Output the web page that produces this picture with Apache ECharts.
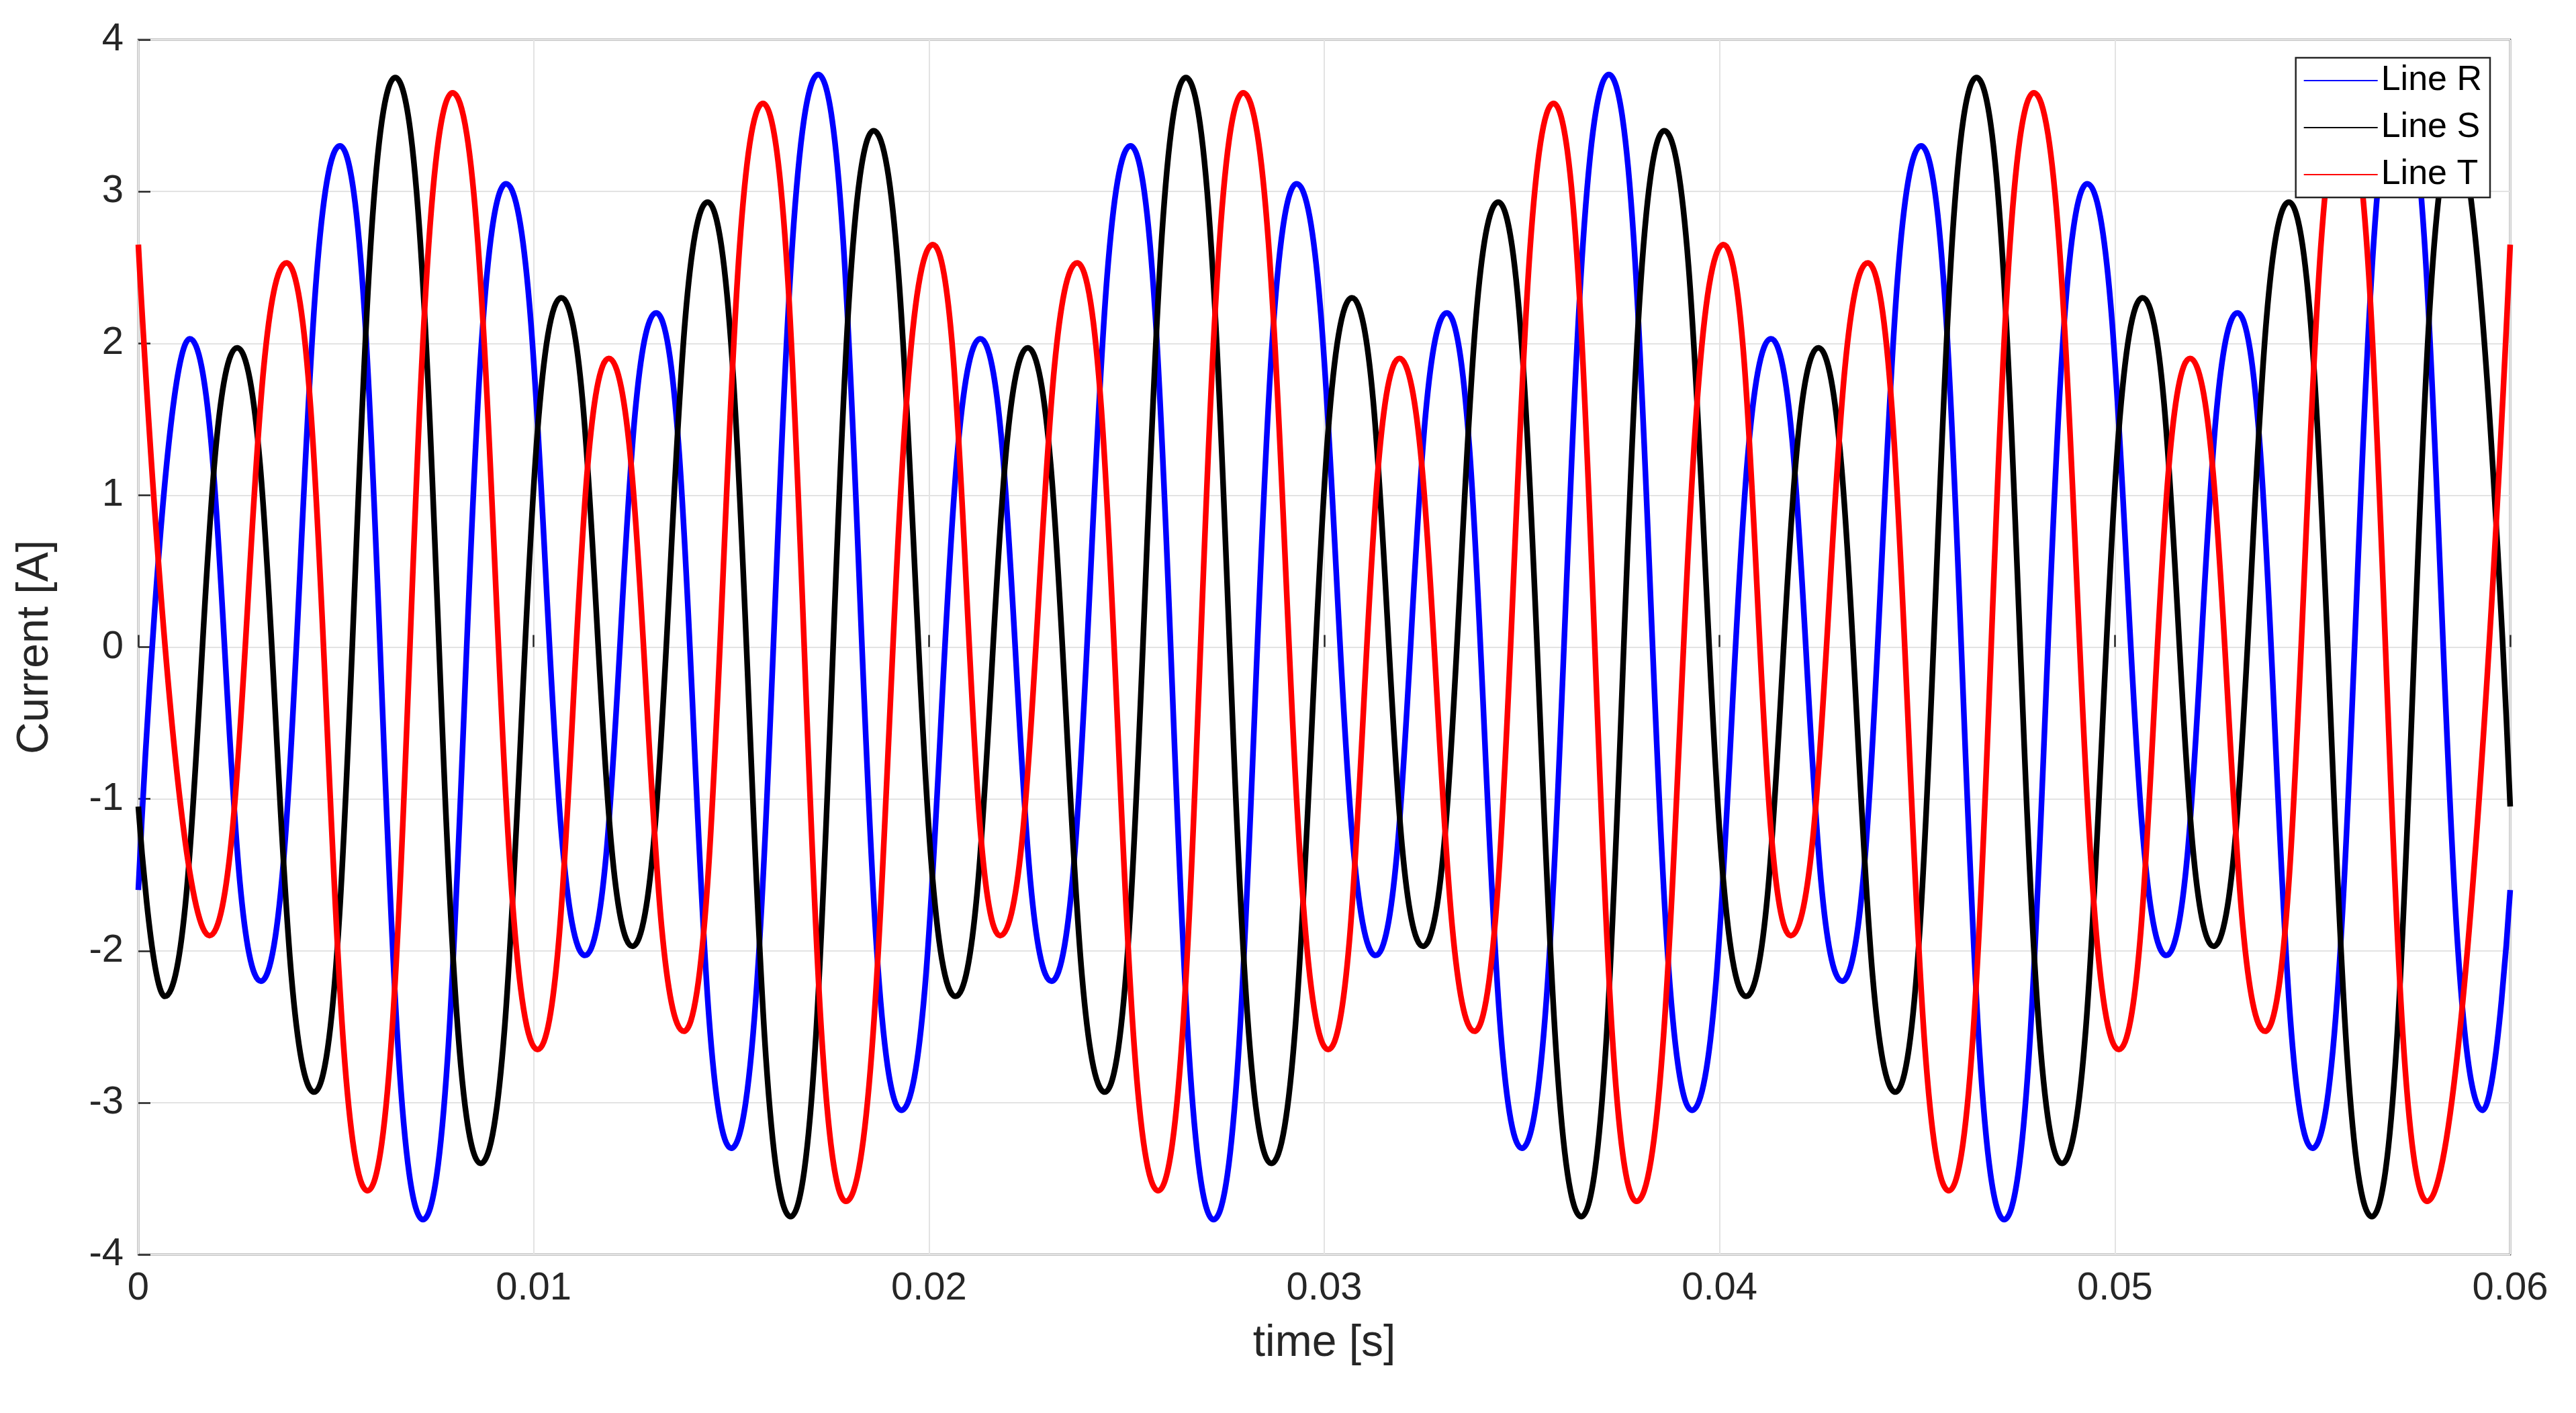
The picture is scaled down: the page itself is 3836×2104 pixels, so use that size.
<!DOCTYPE html>
<html>
<head>
<meta charset="utf-8">
<script src="https://cdn.jsdelivr.net/npm/echarts@6/dist/echarts.min.js"></script>
<style>html,body{margin:0;padding:0;background:#fff}#chart{width:3836px;height:2104px}</style>
</head>
<body>
<div id="chart"></div>
<script>
// extrema, [time s, current A]
var lineR = [
  [0,-1.6],[0.0013,2.03],[0.0031,-2.2],[0.0051,3.3],[0.0072,-3.77],[0.0093,3.05],[0.0113,-2.03],[0.0131,2.2],[0.015,-3.3],[0.0172,3.77],[0.0193,-3.05],
  [0.0213,2.03],[0.0231,-2.2],[0.0251,3.3],[0.0272,-3.77],[0.0293,3.05],[0.0313,-2.03],[0.0331,2.2],[0.035,-3.3],[0.0372,3.77],[0.0393,-3.05],
  [0.0413,2.03],[0.0431,-2.2],[0.0451,3.3],[0.0472,-3.77],[0.0493,3.05],[0.0513,-2.03],[0.0531,2.2],[0.055,-3.3],[0.0572,3.77],[0.0593,-3.05],[0.06,-1.6]
];
var lineS = [
  [0,-1.05],[0.00067,-2.3],[0.0025,1.97],[0.00445,-2.93],[0.0065,3.75],[0.00866,-3.4],[0.0107,2.3],[0.0125,-1.97],[0.0144,2.93],[0.0165,-3.75],[0.0186,3.4],
  [0.02067,-2.3],[0.0225,1.97],[0.02445,-2.93],[0.0265,3.75],[0.02866,-3.4],[0.0307,2.3],[0.0325,-1.97],[0.0344,2.93],[0.0365,-3.75],[0.0386,3.4],
  [0.04067,-2.3],[0.0425,1.97],[0.04445,-2.93],[0.0465,3.75],[0.04866,-3.4],[0.0507,2.3],[0.0525,-1.97],[0.0544,2.93],[0.0565,-3.75],[0.0586,3.4],[0.06,-1.05]
];
var lineT = [
  [0,2.65],[0.0018,-1.9],[0.00375,2.53],[0.0058,-3.58],[0.00795,3.65],[0.0101,-2.65],[0.0119,1.9],[0.0138,-2.53],[0.0158,3.58],[0.0179,-3.65],
  [0.0201,2.65],[0.0218,-1.9],[0.02375,2.53],[0.0258,-3.58],[0.02795,3.65],[0.0301,-2.65],[0.0319,1.9],[0.0338,-2.53],[0.0358,3.58],[0.0379,-3.65],
  [0.0401,2.65],[0.0418,-1.9],[0.04375,2.53],[0.0458,-3.58],[0.04795,3.65],[0.0501,-2.65],[0.0519,1.9],[0.0538,-2.53],[0.0558,3.58],[0.0579,-3.65],[0.06,2.65]
];
var seriesNames = ['Line R', 'Line S', 'Line T'];
var seriesColors = ['#0000ff', '#000000', '#ff0000'];

var font = 'Liberation Sans, Arial, sans-serif';
var chart = echarts.init(document.getElementById('chart'));
function mk(name, data, color) {
  return {
    name: name, type: 'line', data: data, showSymbol: false,
    smooth: 0.5, smoothMonotone: 'x',
    lineStyle: { width: 8.5, color: color }, itemStyle: { color: color }
  };
}
chart.setOption({
  animation: false,
  backgroundColor: '#fff',
  grid: { left: 206, right: 98, top: 59, bottom: 236, show: true, borderColor: '#262626', borderWidth: 2.5 },
  legend: {
    orient: 'vertical', right: 128, top: 86,
    backgroundColor: '#fff', borderColor: '#262626', borderWidth: 2.5,
    padding: [8, 12, 8, 12], itemGap: 18, itemWidth: 110, itemHeight: 20,
    icon: 'path://M0,9 L110,9 L110,11 L0,11 Z',
    textStyle: { fontSize: 52, fontFamily: font, color: '#000' },
    data: seriesNames
  },
  xAxis: {
    type: 'value', min: 0, max: 0.06, interval: 0.01,
    name: 'time [s]', nameLocation: 'middle', nameGap: 100,
    nameTextStyle: { fontSize: 66, fontFamily: font, color: '#262626' },
    axisLine: { show: false },
    axisTick: { inside: true, length: 18, lineStyle: { color: '#262626', width: 2.5 } },
    axisLabel: { fontSize: 58, fontFamily: font, color: '#262626', margin: 22,
      formatter: function (v) { return v === 0 ? '0' : String(Math.round(v * 100) / 100); } },
    splitLine: { lineStyle: { color: '#e3e3e3', width: 2 } }
  },
  yAxis: {
    type: 'value', min: -4, max: 4, interval: 1,
    name: 'Current [A]', nameLocation: 'middle', nameGap: 120,
    nameTextStyle: { fontSize: 66, fontFamily: font, color: '#262626' },
    axisLine: { show: false },
    axisTick: { inside: true, length: 18, lineStyle: { color: '#262626', width: 2.5 } },
    axisLabel: { fontSize: 58, fontFamily: font, color: '#262626', margin: 22 },
    splitLine: { lineStyle: { color: '#e3e3e3', width: 2 } }
  },
  series: [
    mk(seriesNames[0], lineR, seriesColors[0]),
    mk(seriesNames[1], lineS, seriesColors[1]),
    mk(seriesNames[2], lineT, seriesColors[2])
  ]
});
</script>
</body>
</html>
